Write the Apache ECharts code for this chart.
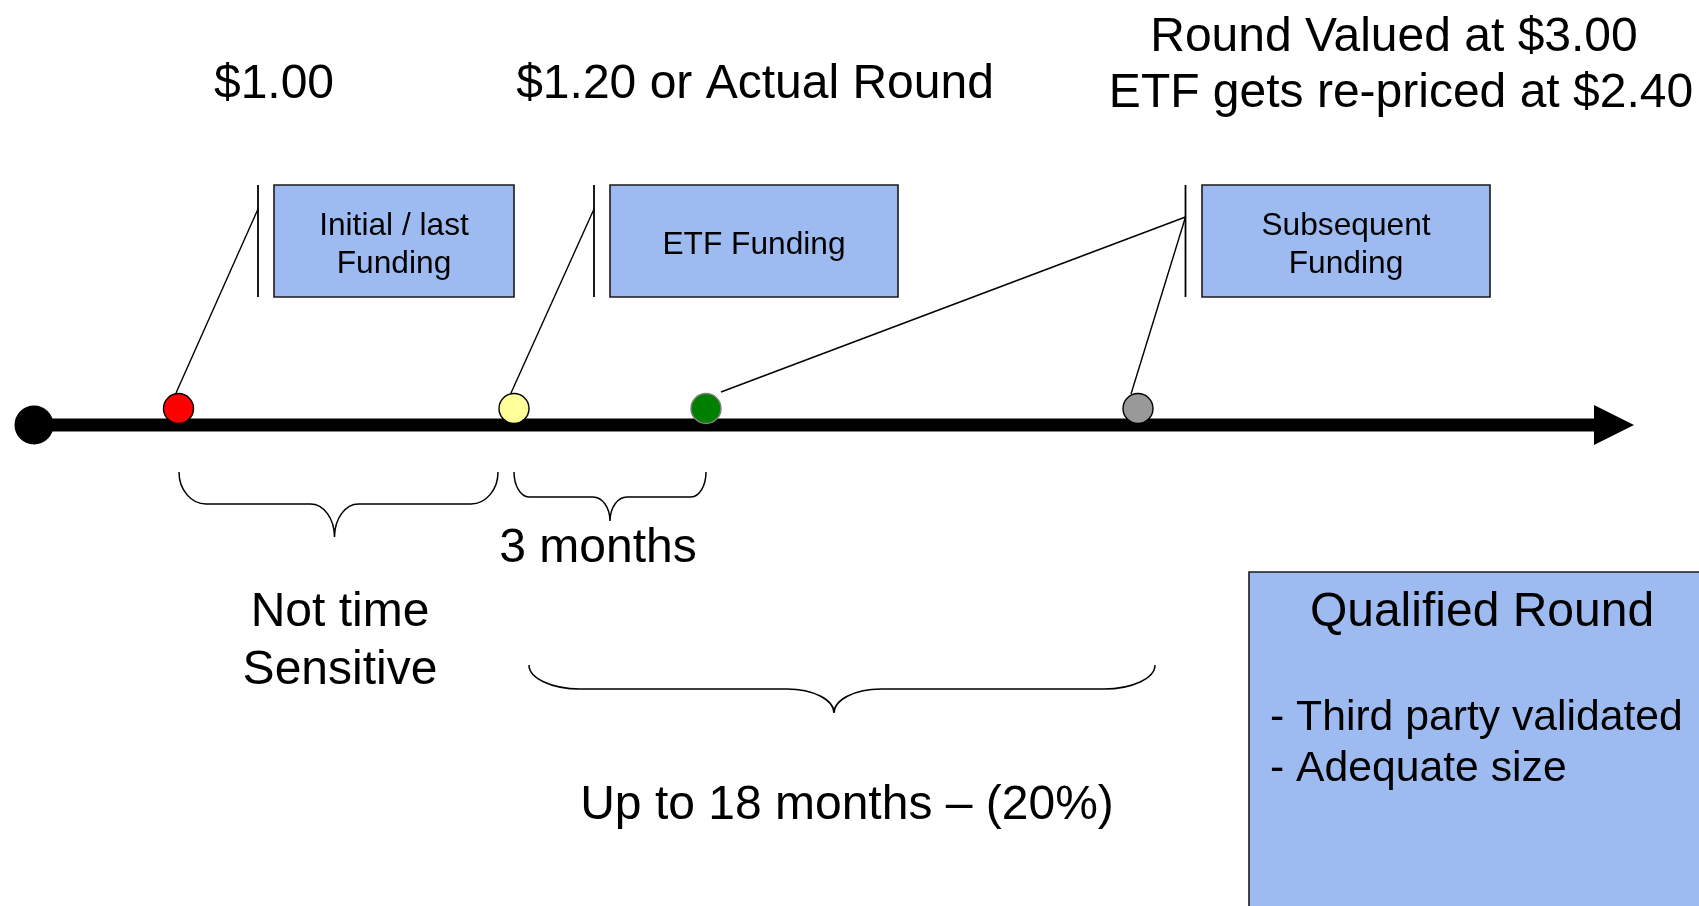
<!DOCTYPE html>
<html>
<head>
<meta charset="utf-8">
<script src="https://cdn.jsdelivr.net/npm/echarts@6/dist/echarts.min.js"></script>
<style>
html,body{margin:0;padding:0;background:#ffffff;}
#chart{width:1699px;height:906px;}
</style>
</head>
<body>
<div id="chart"></div>
<script>
// ---------------- DATA (diagram units on a 1699 x 906 value grid) ----------------
// Timeline
const timelineStart = [34, 425];
const timelineEnd = [1594, 425];
const arrowTip = [1634, 425];
const arrowHalf = [20];

// Milestones on the timeline
const milestoneNames = ['Initial / last funding', 'ETF funding', 'ETF event', 'Subsequent funding'];
const milestoneX = [178.5, 514, 706, 1138];
const milestoneY = [408.5, 408.5, 408.5, 408.5];

// Callout boxes
const calloutLabels = ['Initial / last\nFunding', 'ETF Funding', 'Subsequent\nFunding'];
const calloutLeft = [274, 610, 1202];
const calloutRight = [514, 898, 1490];
const calloutTop = [185, 185, 185];
const calloutBottom = [297, 297, 297];
const calloutBarX = [258, 594, 1185.5];

// Leader lines (callout bar -> milestone)
const leaderFromX = [258, 594, 1185.5, 1185.5];
const leaderFromY = [209, 209, 217, 217];
const leaderToX = [176, 511, 721, 1131];
const leaderToY = [393, 393, 392, 394];

// Price headings
const headingTexts = ['$1.00', '$1.20 or Actual Round', 'Round Valued at $3.00', 'ETF gets re-priced at $2.40'];
const headingX = [274, 755, 1394, 1401];
const headingY = [84.5, 84.5, 38, 93.5];

// Period braces
const braceLeft = [179, 514, 529];
const braceRight = [498, 706, 1155];
const braceTop = [472, 472, 665];
const braceMid = [504, 497, 689];
const braceTipX = [334.5, 610, 834];
const braceTipY = [537, 521, 713];
const braceEndR = [27, 15, 51];
const braceTipR = [24, 17, 47];

// Period labels
const periodLabels = ['Not time\nSensitive', '3 months', 'Up to 18 months \u2013 (20%)'];
const periodX = [340, 598, 847];
const periodY = [642, 549, 805.5];

// Qualified round panel
const panelTitle = ['Qualified Round'];
const panelBullets = ['- Third party validated', '- Adequate size'];
const panelBox = [1249, 572, 1716, 930];
const panelTitlePos = [1482, 612.5];
const bulletX = [1270, 1270];
const bulletY = [718.5, 769.5];

// ---------------- STYLE ----------------
const FONT_FAMILY = '"Liberation Sans", Arial, Helvetica, sans-serif';
const BOX_FILL = '#9EBBF1';
const BOX_STROKE = '#1a1a1a';
const dotFill = ['#FF0000', '#FFFF99', '#008000', '#999999'];
const dotStroke = ['#000000', '#000000', '#7f7f7f', '#000000'];

function textEl(api, x, y, txt, size, align, lh) {
  const p = api.coord([x, y]);
  return {
    type: 'text',
    style: {
      text: txt, x: p[0], y: p[1],
      font: size + 'px ' + FONT_FAMILY,
      fill: '#000000',
      align: align, textAlign: align,
      verticalAlign: 'middle', textVerticalAlign: 'middle',
      lineHeight: lh || Math.round(size * 1.15)
    }
  };
}

const chart = echarts.init(document.getElementById('chart'), null, {renderer: 'canvas'});

const option = {
  animation: false,
  backgroundColor: '#ffffff',
  grid: {left: 0, right: 0, top: 0, bottom: 0},
  xAxis: {type: 'value', min: 0, max: 1699, show: false},
  yAxis: {type: 'value', min: 0, max: 906, inverse: true, show: false},
  series: [
    // timeline shaft
    {
      type: 'line', z: 2, symbol: 'none', silent: true,
      data: [timelineStart, timelineEnd],
      lineStyle: {color: '#000000', width: 13, cap: 'butt', opacity: 1}
    },
    // arrow head
    {
      type: 'custom', z: 2, silent: true,
      data: [[timelineEnd[0], arrowTip[0], arrowTip[1], arrowHalf[0]]],
      renderItem: function (params, api) {
        const b = api.coord([api.value(0), api.value(2) - api.value(3)]);
        const c = api.coord([api.value(0), api.value(2) + api.value(3)]);
        const t = api.coord([api.value(1), api.value(2)]);
        return {type: 'polygon', shape: {points: [b, t, c]}, style: {fill: '#000000'}};
      }
    },
    // start dot
    {
      type: 'scatter', z: 3, silent: true,
      data: [timelineStart],
      symbol: 'circle', symbolSize: 39,
      itemStyle: {color: '#000000', opacity: 1}
    },
    // callout boxes with their bars
    {
      type: 'custom', z: 3, silent: true,
      data: calloutLeft.map((l, i) => [l, calloutTop[i], calloutRight[i], calloutBottom[i], calloutBarX[i]]),
      renderItem: function (params, api) {
        const i = params.dataIndex;
        const p1 = api.coord([api.value(0), api.value(1)]);
        const p2 = api.coord([api.value(2), api.value(3)]);
        const b1 = api.coord([api.value(4), api.value(1)]);
        const b2 = api.coord([api.value(4), api.value(3)]);
        const cx = (api.value(0) + api.value(2)) / 2;
        const cy = (api.value(1) + api.value(3)) / 2 + 4;
        return {
          type: 'group',
          children: [
            {type: 'rect', shape: {x: p1[0], y: p1[1], width: p2[0] - p1[0], height: p2[1] - p1[1]},
             style: {fill: BOX_FILL, stroke: BOX_STROKE, lineWidth: 1.6}},
            {type: 'line', shape: {x1: b1[0], y1: b1[1], x2: b2[0], y2: b2[1]},
             style: {stroke: '#000000', lineWidth: 1.8}},
            textEl(api, cx, cy, calloutLabels[i], 31.7, 'center', 38)
          ]
        };
      }
    },
    // leader lines
    {
      type: 'custom', z: 3, silent: true,
      data: leaderFromX.map((x, i) => [x, leaderFromY[i], leaderToX[i], leaderToY[i]]),
      renderItem: function (params, api) {
        const a = api.coord([api.value(0), api.value(1)]);
        const b = api.coord([api.value(2), api.value(3)]);
        return {type: 'line', shape: {x1: a[0], y1: a[1], x2: b[0], y2: b[1]},
                style: {stroke: '#000000', lineWidth: 1.4}};
      }
    },
    // milestone dots
    {
      type: 'scatter', z: 5, silent: true,
      data: milestoneX.map((x, i) => ({
        name: milestoneNames[i],
        value: [x, milestoneY[i]],
        itemStyle: {color: dotFill[i], borderColor: dotStroke[i]}
      })),
      symbol: 'circle', symbolSize: 30,
      itemStyle: {borderWidth: 1.4, opacity: 1}
    },
    // braces
    {
      type: 'custom', z: 3, silent: true,
      data: braceLeft.map((l, i) => [l, braceRight[i], braceTop[i], braceMid[i], braceTipX[i], braceTipY[i], braceEndR[i], braceTipR[i]]),
      renderItem: function (params, api) {
        const x1 = api.value(0), x2 = api.value(1), top = api.value(2), mid = api.value(3);
        const tx = api.value(4), ty = api.value(5), re = api.value(6), rt = api.value(7);
        const k = 0.552;
        const P = (x, y) => { const c = api.coord([x, y]); return c[0].toFixed(2) + ' ' + c[1].toFixed(2); };
        const d = 'M ' + P(x1, top) +
          ' C ' + P(x1, top + k * (mid - top)) + ' ' + P(x1 + re * (1 - k), mid) + ' ' + P(x1 + re, mid) +
          ' L ' + P(tx - rt, mid) +
          ' C ' + P(tx - rt * (1 - k), mid) + ' ' + P(tx, ty - k * (ty - mid)) + ' ' + P(tx, ty) +
          ' C ' + P(tx, ty - k * (ty - mid)) + ' ' + P(tx + rt * (1 - k), mid) + ' ' + P(tx + rt, mid) +
          ' L ' + P(x2 - re, mid) +
          ' C ' + P(x2 - re * (1 - k), mid) + ' ' + P(x2, top + k * (mid - top)) + ' ' + P(x2, top);
        return {type: 'path', shape: {pathData: d}, style: {fill: 'none', stroke: '#000000', lineWidth: 1.5}};
      }
    },
    // headings
    {
      type: 'custom', z: 4, silent: true,
      data: headingX.map((x, i) => [x, headingY[i]]),
      renderItem: function (params, api) {
        return textEl(api, api.value(0), api.value(1), headingTexts[params.dataIndex], 48, 'center');
      }
    },
    // period labels
    {
      type: 'custom', z: 4, silent: true,
      data: periodX.map((x, i) => [x, periodY[i]]),
      renderItem: function (params, api) {
        return textEl(api, api.value(0), api.value(1), periodLabels[params.dataIndex], 48, 'center', 57.5);
      }
    },
    // qualified round panel
    {
      type: 'custom', z: 4, silent: true,
      data: [panelBox],
      renderItem: function (params, api) {
        const p1 = api.coord([api.value(0), api.value(1)]);
        const p2 = api.coord([api.value(2), api.value(3)]);
        const kids = [
          {type: 'rect', shape: {x: p1[0], y: p1[1], width: p2[0] - p1[0], height: p2[1] - p1[1]},
           style: {fill: BOX_FILL, stroke: BOX_STROKE, lineWidth: 1.6}},
          textEl(api, panelTitlePos[0], panelTitlePos[1], panelTitle[0], 48, 'center')
        ];
        panelBullets.forEach((b, i) => kids.push(textEl(api, bulletX[i], bulletY[i], b, 42.7, 'left')));
        return {type: 'group', children: kids};
      }
    }
  ]
};

chart.setOption(option);
</script>
</body>
</html>
